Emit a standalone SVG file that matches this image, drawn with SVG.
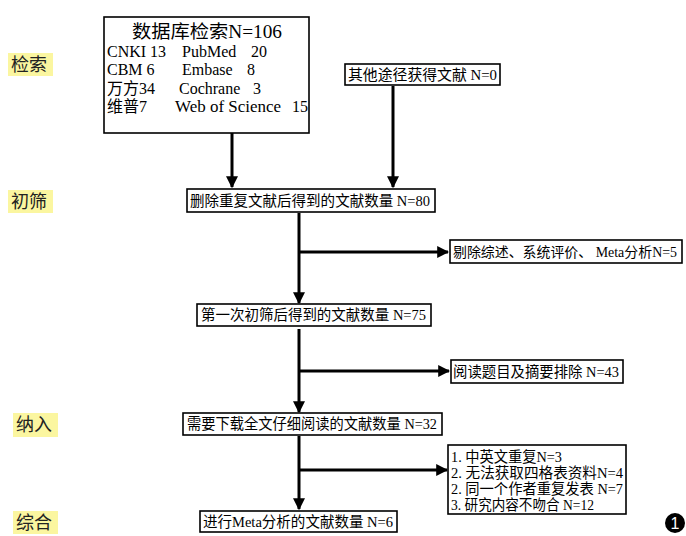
<svg xmlns="http://www.w3.org/2000/svg" width="686" height="536" viewBox="0 0 686 536">
<style>
.box{fill:#fff;stroke:#000;stroke-width:1.6}
.t{font-family:"Liberation Serif","Noto Sans CJK SC",serif;fill:#000}
.lab{font-family:"Noto Sans CJK SC",sans-serif;font-size:18px;fill:#222}
.hl{fill:#FBF6A0}
.ln{stroke:#000;stroke-width:3;fill:none}
</style>
<defs>
<marker id="ah" viewBox="0 0 10 10" refX="9" refY="5" markerWidth="4" markerHeight="4" orient="auto" markerUnits="strokeWidth">
<path d="M0,0 L10,5 L0,10 z" fill="#000"/>
</marker>
</defs>
<rect width="686" height="536" fill="#fff"/>
<g id="labels">
<rect class="hl" x="8" y="53" width="45" height="23"/>
<text class="lab" x="11" y="71">检索</text>
<rect class="hl" x="8" y="190" width="45" height="23"/>
<text class="lab" x="11" y="208">初筛</text>
<rect class="hl" x="13" y="413" width="45" height="24"/>
<text class="lab" x="16" y="431">纳入</text>
<rect class="hl" x="13" y="511" width="45" height="23"/>
<text class="lab" x="16" y="529">综合</text>
</g>
<g id="connectors">
<line class="ln" x1="232" y1="133" x2="232" y2="187" marker-end="url(#ah)"/>
<line class="ln" x1="393" y1="86" x2="393" y2="187" marker-end="url(#ah)"/>
<line class="ln" x1="299" y1="213" x2="299" y2="303" marker-end="url(#ah)"/>
<line class="ln" x1="299" y1="252" x2="448" y2="252" marker-end="url(#ah)"/>
<line class="ln" x1="299" y1="329" x2="299" y2="412" marker-end="url(#ah)"/>
<line class="ln" x1="299" y1="371" x2="449" y2="371" marker-end="url(#ah)"/>
<line class="ln" x1="299" y1="436" x2="299" y2="509" marker-end="url(#ah)"/>
<line class="ln" x1="299" y1="470" x2="447" y2="470" marker-end="url(#ah)"/>
</g>
<g id="db">
<rect class="box" x="104" y="17" width="205" height="116"/>
<text class="t" x="207" y="38" font-size="18" text-anchor="middle" textLength="150" lengthAdjust="spacingAndGlyphs">数据库检索N=106</text>
<text class="t" font-size="16" x="107" y="57">CNKI 13</text>
<text class="t" font-size="16" x="182" y="57">PubMed</text>
<text class="t" font-size="16" x="251" y="57">20</text>
<text class="t" font-size="16" x="107" y="75">CBM 6</text>
<text class="t" font-size="16" x="182" y="75">Embase</text>
<text class="t" font-size="16" x="247" y="75">8</text>
<text class="t" font-size="16" x="107" y="94">万方34</text>
<text class="t" font-size="16" x="179" y="94">Cochrane</text>
<text class="t" font-size="16" x="253" y="94">3</text>
<text class="t" font-size="16" x="107" y="112">维普7</text>
<text class="t" font-size="16" x="175" y="112" textLength="106" lengthAdjust="spacingAndGlyphs">Web of Science</text>
<text class="t" font-size="16" x="292" y="112">15</text>
</g>
<g id="other">
<rect class="box" x="345" y="64" width="155" height="21"/>
<text class="t" x="348" y="80" font-size="15" textLength="149" lengthAdjust="spacingAndGlyphs">其他途径获得文献 N=0</text>
</g>
<g id="dedup">
<rect class="box" x="187" y="189" width="248" height="23"/>
<text class="t" x="190" y="206" font-size="15" textLength="240" lengthAdjust="spacingAndGlyphs">删除重复文献后得到的文献数量 N=80</text>
</g>
<g id="excl1">
<rect class="box" x="450" y="240" width="232" height="23"/>
<text class="t" x="453" y="257" font-size="14" textLength="224" lengthAdjust="spacingAndGlyphs">剔除综述、系统评价、 Meta分析N=5</text>
</g>
<g id="first">
<rect class="box" x="197" y="304" width="234" height="22"/>
<text class="t" x="201" y="320" font-size="15" textLength="225" lengthAdjust="spacingAndGlyphs">第一次初筛后得到的文献数量 N=75</text>
</g>
<g id="excl2">
<rect class="box" x="451" y="360" width="172" height="23"/>
<text class="t" x="453" y="377" font-size="15" textLength="166" lengthAdjust="spacingAndGlyphs">阅读题目及摘要排除 N=43</text>
</g>
<g id="full">
<rect class="box" x="183" y="413" width="259" height="22"/>
<text class="t" x="187" y="429" font-size="15" textLength="250" lengthAdjust="spacingAndGlyphs">需要下载全文仔细阅读的文献数量 N=32</text>
</g>
<g id="excl3">
<rect class="box" x="448" y="445" width="178" height="69"/>
<text class="t" x="451" y="462" font-size="14.5" textLength="111" lengthAdjust="spacingAndGlyphs">1. 中英文重复N=3</text>
<text class="t" x="451" y="478" font-size="14.5" textLength="172" lengthAdjust="spacingAndGlyphs">2. 无法获取四格表资料N=4</text>
<text class="t" x="451" y="494" font-size="14.5" textLength="172" lengthAdjust="spacingAndGlyphs">2. 同一个作者重复发表 N=7</text>
<text class="t" x="451" y="510" font-size="14.5" textLength="143" lengthAdjust="spacingAndGlyphs">3. 研究内容不吻合 N=12</text>
</g>
<g id="meta">
<rect class="box" x="200" y="511" width="197" height="21"/>
<text class="t" x="203" y="527" font-size="15" textLength="190" lengthAdjust="spacingAndGlyphs">进行Meta分析的文献数量 N=6</text>
</g>
<g id="badge">
<circle cx="675" cy="523" r="10" fill="#000"/>
<text x="675" y="529" font-family="Liberation Sans,sans-serif" font-size="16" fill="#fff" text-anchor="middle">1</text>
</g>
</svg>
